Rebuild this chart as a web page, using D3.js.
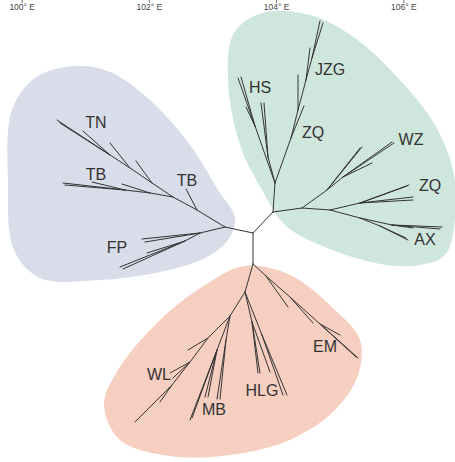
<!DOCTYPE html>
<html>
<head>
<meta charset="utf-8">
<script src="https://cdn.jsdelivr.net/npm/d3@7"></script>
<style>
  body { margin: 0; background: #fff; }
  svg { display: block; }
</style>
</head>
<body>
<svg id="svg"></svg>
<script>
// visual constants
const dims = { width: 455, height: 462 };

// longitude ticks along the top
const lonTicks = [100, 102, 104, 106];

// tree nodes: [id, parent, x, y] in layout units
const coreNodes = [
  ['C', null, 253, 233]
];
const blueNodes = [
  ['B0', 'C', 225, 227], ['B1', 'B0', 197, 210], ['', 'B1', 186, 189],
  ['B2', 'B1', 173, 197],
  ['TL1', 'B2', 150, 193], ['', 'TL1', 122, 184], ['TL2', 'TL1', 125, 190],
  ['', 'TL2', 92, 182], ['', 'TL2', 63, 183], ['', 'TL2', 65, 185],
  ['T1', 'B2', 152, 183], ['', 'T1', 136, 161], ['T2', 'T1', 130, 168],
  ['', 'T2', 110, 143], ['T3', 'T2', 110, 155], ['', 'T3', 83, 131],
  ['', 'T3', 57, 120], ['', 'T3', 60, 123],
  ['F1', 'B0', 200, 233], ['', 'F1', 142, 239], ['', 'F1', 145, 242],
  ['F3', 'F1', 185, 241], ['', 'F3', 120, 267], ['', 'F3', 123, 269], ['', 'F3', 147, 253]
];
const greenNodes = [
  ['G0', 'C', 273, 212], ['G1', 'G0', 275, 183],
  ['H1', 'G1', 268, 157], ['', 'H1', 261, 103], ['', 'H1', 264, 103],
  ['H2', 'G1', 255, 126], ['', 'H2', 238, 78], ['', 'H2', 241, 77], ['', 'H2', 246, 107],
  ['J1', 'G1', 291, 138], ['', 'J1', 304, 106], ['J2', 'J1', 298, 110], ['', 'J2', 298, 75],
  ['J3', 'J2', 306, 80], ['', 'J3', 310, 48], ['J4', 'J3', 312, 58],
  ['', 'J4', 320, 21], ['', 'J4', 323, 23],
  ['G2', 'G0', 302, 208], ['W1', 'G2', 327, 190], ['', 'W1', 360, 148], ['', 'W1', 362, 147],
  ['W2', 'W1', 343, 177], ['', 'W2', 372, 163], ['', 'W2', 392, 142], ['', 'W2', 394, 143],
  ['G3', 'G2', 330, 210], ['Z1', 'G3', 360, 203],
  ['', 'Z1', 407, 186], ['', 'Z1', 409, 185], ['', 'Z1', 413, 197], ['', 'Z1', 413, 200],
  ['A1', 'G3', 360, 218], ['A2', 'A1', 392, 225],
  ['', 'A2', 442, 227], ['', 'A2', 440, 229], ['', 'A2', 413, 228],
  ['A3', 'A1', 380, 226], ['', 'A3', 408, 240], ['', 'A3', 406, 238]
];
const redNodes = [
  ['R0', 'C', 253, 264],
  ['E1', 'R0', 266, 276], ['', 'E1', 288, 307], ['E2', 'E1', 290, 297], ['', 'E2', 313, 323],
  ['E3', 'E2', 320, 324], ['', 'E3', 340, 335], ['', 'E3', 358, 358], ['', 'E3', 356, 357],
  ['R1', 'R0', 245, 292],
  ['HL1', 'R1', 252, 322], ['', 'HL1', 258, 373], ['', 'HL1', 260, 373], ['', 'HL1', 270, 372],
  ['HL2', 'R1', 262, 335], ['', 'HL2', 283, 395], ['', 'HL2', 287, 395],
  ['R2', 'R1', 230, 316],
  ['M1', 'R2', 217, 350], ['', 'M1', 190, 420], ['', 'M1', 192, 418], ['', 'M1', 205, 397], ['', 'M1', 208, 397],
  ['M2', 'R2', 226, 340], ['', 'M2', 217, 399], ['', 'M2', 220, 399],
  ['WL1', 'R2', 208, 338], ['', 'WL1', 188, 350], ['WL2', 'WL1', 190, 362],
  ['', 'WL2', 170, 373], ['', 'WL2', 173, 378], ['WL3', 'WL2', 172, 385],
  ['', 'WL3', 160, 402], ['', 'WL3', 137, 420], ['', 'WL3', 135, 422]
];

// clade outlines (layout units)
const blueHull = [[75, 66], [110, 72], [150, 100], [190, 145], [218, 190], [235, 218], [228, 240],
  [205, 258], [160, 272], [100, 280], [40, 278], [14, 250], [8, 180], [12, 110], [35, 78]];
const greenHull = [[262, 13], [310, 15], [355, 38], [400, 80], [435, 125], [453, 170], [455, 220],
  [445, 255], [420, 265], [380, 264], [320, 245], [285, 225], [262, 190], [240, 145], [228, 80], [234, 33]];
const redHull = [[245, 266], [290, 275], [335, 310], [360, 340], [358, 375], [335, 410], [290, 440],
  [230, 455], [170, 456], [120, 440], [104, 405], [118, 370], [160, 320], [205, 285]];

// clade labels: [text, x, y]
const blueLabels = [['TN', 96, 128], ['TB', 96, 180], ['TB', 187, 186], ['FP', 117, 253]];
const greenLabels = [['HS', 260, 93], ['JZG', 330, 75], ['ZQ', 313, 138], ['WZ', 411, 145],
  ['ZQ', 430, 191], ['AX', 425, 245]];
const redLabels = [['EM', 325, 352], ['WL', 159, 380], ['MB', 214, 415], ['HLG', 262, 396]];

const cladeFills = ['#d9dce9', '#cfe6dc', '#f6cfc0'];

// scales
const lonScale = d3.scaleLinear().domain([100, 106]).range([21.7, 403.3]);
const tx = d3.scaleLinear().domain([0, dims.width]).range([0, dims.width]);
const ty = d3.scaleLinear().domain([0, dims.height]).range([0, dims.height]);

const mySvg = d3.select('#svg')
  .attr('width', dims.width)
  .attr('height', dims.height)
  .style('font-family', '"Liberation Sans", Arial, sans-serif');

// blobs
const blobLine = d3.line()
  .x(d => tx(d[0]))
  .y(d => ty(d[1]))
  .curve(d3.curveCatmullRomClosed.alpha(0.5));

mySvg.append('g').selectAll('path')
  .data([blueHull, greenHull, redHull])
  .join('path')
  .attr('d', blobLine)
  .attr('fill', (d, i) => cladeFills[i]);

// axis
const lonAxis = d3.axisBottom(lonScale)
  .tickValues(lonTicks)
  .tickSize(3)
  .tickPadding(1)
  .tickFormat(d => `${d}° E`);

const axisG = mySvg.append('g').call(lonAxis);
axisG.select('.domain').remove();
axisG.selectAll('line').attr('stroke', '#777');
axisG.selectAll('text').attr('fill', '#444').style('font-size', '8.5px')
  .style('font-family', '"Liberation Sans", Arial, sans-serif');

// tree branches
const allNodes = coreNodes.concat(blueNodes, greenNodes, redNodes);
const byId = new Map(allNodes.filter(n => n[0]).map(n => [n[0], n]));
const branches = allNodes.filter(n => n[1]).map(n => [byId.get(n[1]), n]);

mySvg.append('g').selectAll('line')
  .data(branches)
  .join('line')
  .attr('x1', d => tx(d[0][2]))
  .attr('y1', d => ty(d[0][3]))
  .attr('x2', d => tx(d[1][2]))
  .attr('y2', d => ty(d[1][3]))
  .attr('stroke', '#333')
  .attr('stroke-width', 1)
  .attr('stroke-linecap', 'round');

// labels
mySvg.append('g').selectAll('text')
  .data(blueLabels.concat(greenLabels, redLabels))
  .join('text')
  .attr('x', d => tx(d[1]))
  .attr('y', d => ty(d[2]))
  .attr('text-anchor', 'middle')
  .attr('fill', '#333')
  .style('font-size', '16px')
  .text(d => d[0]);
</script>
</body>
</html>
